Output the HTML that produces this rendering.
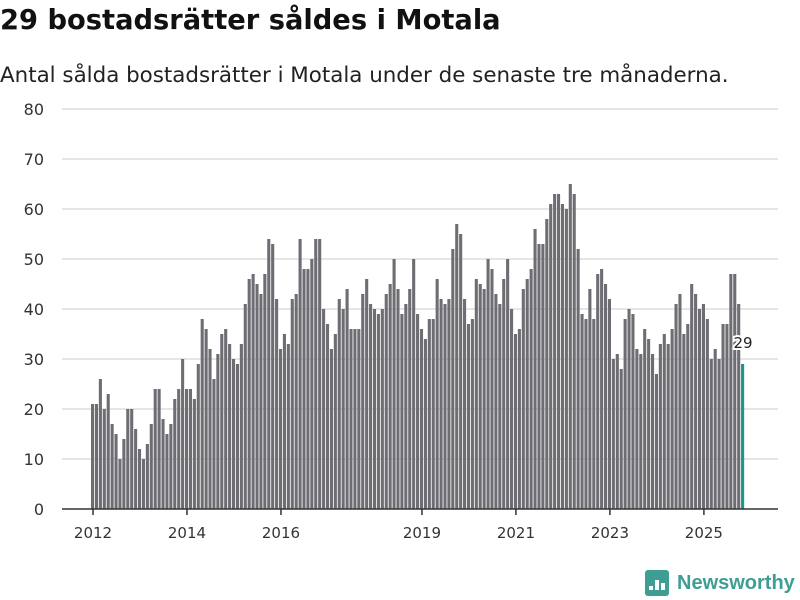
<!DOCTYPE html>
<html><head><meta charset="utf-8"><style>
body{margin:0;background:#fff;font-family:"DejaVu Sans","Liberation Sans",sans-serif;}
#wrap{position:relative;width:800px;height:600px;overflow:hidden;}
h1{position:absolute;left:0;top:5px;margin:0;font-size:27.3px;font-weight:bold;color:#111;white-space:nowrap;}
p.sub{position:absolute;left:0;top:63px;margin:0;font-size:21.4px;color:#222;white-space:nowrap;}
</style></head><body>
<div id="wrap">
<h1>29 bostadsrätter såldes i Motala</h1>
<p class="sub">Antal sålda bostadsrätter i Motala under de senaste tre månaderna.</p>
<svg id="chart" width="800" height="600" style="position:absolute;left:0;top:0"></svg>
</div>
<script>
const values = [
21,21,26,20,23,17,15,10,14,20,20,16,
12,10,13,17,24,24,18,15,17,22,24,30,
24,24,22,29,38,36,32,26,31,35,36,33,
30,29,33,41,46,47,45,43,47,54,53,42,
32,35,33,42,43,54,48,48,50,54,54,40,
37,32,35,42,40,44,36,36,36,43,46,41,
40,39,40,43,45,50,44,39,41,44,50,39,
36,34,38,38,46,42,41,42,52,57,55,42,
37,38,46,45,44,50,48,43,41,46,50,40,
35,36,44,46,48,56,53,53,58,61,63,63,
61,60,65,63,52,39,38,44,38,47,48,45,
42,30,31,28,38,40,39,32,31,36,34,31,
27,33,35,33,36,41,43,35,37,45,43,40,
41,38,30,32,30,37,37,47,47,41,29];
const yTicks = [0,10,20,30,40,50,60,70,80];
const xTickLabels = ["2012","2014","2016","2019","2021","2023","2025"];
const xTickIndex = [0,24,48,84,108,132,156];
const NS="http://www.w3.org/2000/svg";
const svg=document.getElementById('chart');
const y0=509, yPer=5, x0=91, step=3.916;
const yScale=v=>y0-v*yPer;
const xScale=i=>x0+i*step;
function mk(t,a){const e=document.createElementNS(NS,t);for(const k in a)e.setAttribute(k,a[k]);svg.appendChild(e);return e;}
yTicks.forEach(v=>{
  if(v>0){const g=mk('line',{x1:62,x2:778,y1:yScale(v),y2:yScale(v),stroke:'#ddd','stroke-width':1.5});
  
  }
  const t=mk('text',{x:44,y:yScale(v)+6,'text-anchor':'end','font-size':16,fill:'#333'});
  t.textContent=v;
  
  
});
values.forEach((v,i)=>{
  const last=i===values.length-1;
  const r=mk('rect',{x:xScale(i),y:yScale(v),width:3.1,height:v*yPer,fill:last?'#16988d':'#6e6d73'});
  
  
});
const ax=mk('line',{x1:62,x2:778,y1:y0,y2:y0,stroke:'#333','stroke-width':1.5});


xTickLabels.forEach((l,k)=>{
  const x=xScale(xTickIndex[k])+2;
  const tk=mk('line',{x1:x,x2:x,y1:y0,y2:y0+6,stroke:'#333','stroke-width':1.5});
  
  
  const t=mk('text',{x:x,y:538,'text-anchor':'middle','font-size':15,fill:'#333'});
  t.textContent=l;
  
  
});
const li=values.length-1;
const lbl=mk('text',{x:xScale(li)+2,y:yScale(values[li])-16,'text-anchor':'middle','font-size':15,fill:'#222',stroke:'#fff','stroke-width':4,'paint-order':'stroke'});
lbl.textContent=values[li];


const lg=mk('g',{});


const bx=document.createElementNS(NS,'rect');
[['x',645],['y',570],['width',24],['height',26],['rx',3],['fill','#3f9e94']].forEach(a=>bx.setAttribute(a[0],a[1]));lg.appendChild(bx);
[[649,586,4],[655,580,10],[661,583,7]].forEach(b=>{const r=document.createElementNS(NS,'rect');r.setAttribute('x',b[0]);r.setAttribute('y',b[1]);r.setAttribute('width',4);r.setAttribute('height',b[2]);r.setAttribute('fill','#fff');lg.appendChild(r);});
const lt=document.createElementNS(NS,'text');
lt.setAttribute('x',677);lt.setAttribute('y',589);lt.setAttribute('font-size',20);lt.setAttribute('font-weight','bold');lt.setAttribute('fill','#3f9e94');
lt.setAttribute('font-family','Liberation Sans, sans-serif');
lt.textContent='Newsworthy';lg.appendChild(lt);
</script>
</body></html>
